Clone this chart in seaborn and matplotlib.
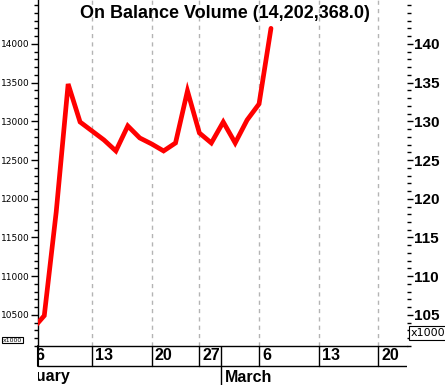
import numpy as np
import pandas as pd
import matplotlib
matplotlib.use("Agg")
import matplotlib.pyplot as plt
import matplotlib.transforms as mtransforms
from matplotlib.ticker import MultipleLocator, FixedLocator
import seaborn as sns

# ---- data (trading-day index -> On Balance Volume, in thousands) ----
day_index = list(range(21))
obv_values = [10313, 10490, 11829, 13483, 12992, 12876, 12760, 12618, 12941, 12786,
              12708, 12618, 12721, 13393, 12850, 12721, 12992, 12721, 13018, 13225, 14202]
tick_positions = [0, 5, 10, 14, 19, 24, 29]
tick_labels = ["6", "13", "20", "27", "6", "13", "20"]
month_labels = ["February", "March"]
month_break = 15.85
title_text = "On Balance Volume (14,202,368.0)"

sns.set_style("white")
plt.rcParams['font.family'] = ['Liberation Sans', 'DejaVu Sans']
plt.rcParams['text.color'] = 'black'
plt.rcParams['axes.labelcolor'] = 'black'
plt.rcParams['xtick.color'] = 'black'
plt.rcParams['ytick.color'] = 'black'

W, H = 445, 385
fig = plt.figure(figsize=(W / 100, H / 100), dpi=100)
fig.patch.set_facecolor("white")

ax_left_px, ax_right_px, ax_bottom_px = 38, 407, 346
ax = fig.add_axes([ax_left_px / W, (H - ax_bottom_px) / H,
                   (ax_right_px - ax_left_px) / W, ax_bottom_px / H])
xlim = (0.474, 31.40)
ylim = (10098, 14568)

df = pd.DataFrame({"day": day_index, "obv": obv_values})
sns.lineplot(data=df, x="day", y="obv", ax=ax, color="#ff0000", linewidth=3.4,
             solid_joinstyle="miter", zorder=5)
ax.set_xlim(*xlim)
ax.set_ylim(*ylim)
ax.set_xlabel("")
ax.set_ylabel("")

for g in tick_positions:
    ax.axvline(g, color="#b4b4b4", lw=1.0, ls=(0, (3, 3)), zorder=1)

for s in ["top", "right"]:
    ax.spines[s].set_visible(False)
for s in ["left", "bottom"]:
    ax.spines[s].set_color("black")
    ax.spines[s].set_linewidth(1.0)

ax.set_xticks([])
ax.yaxis.set_major_locator(FixedLocator(list(range(10500, 14001, 500))))
ax.yaxis.set_minor_locator(MultipleLocator(100))
ax.tick_params(axis="y", which="major", direction="out", length=5, width=1,
               labelsize=6.5, pad=1, colors="black")
ax.tick_params(axis="y", which="minor", direction="out", length=3, width=1, colors="black")
for lab in ax.get_yticklabels():
    lab.set_family("DejaVu Sans")

# right axis (values / 100)
axr = ax.twinx()
axr.set_ylim(ylim[0] / 100, ylim[1] / 100)
for s in axr.spines.values():
    s.set_visible(False)
axr.yaxis.set_major_locator(FixedLocator(list(range(105, 141, 5))))
axr.yaxis.set_minor_locator(MultipleLocator(1))
axr.tick_params(axis="y", which="major", direction="out", length=4, width=1,
                labelsize=11, pad=1, colors="black")
axr.tick_params(axis="y", which="minor", direction="out", length=3, width=1, colors="black")
for lab in axr.get_yticklabels():
    lab.set_fontweight("bold")
axr.set_xticks([])

# bottom date band
axb = fig.add_axes([ax_left_px / W, 0, (ax_right_px - ax_left_px) / W, (H - ax_bottom_px) / H])
axb.set_xlim(*xlim)
axb.set_ylim(0, H - ax_bottom_px)
axb.axis("off")
row_y = H - 366
axb.axhline(row_y, color="black", lw=1.0)
axb.plot([xlim[0], xlim[0]], [row_y, H - ax_bottom_px], color="black", lw=1.5, clip_on=False)
for g, t in zip(tick_positions, tick_labels):
    axb.plot([g, g], [row_y, H - ax_bottom_px], color="black", lw=1.0)
    off = mtransforms.offset_copy(axb.transData, fig=fig, x=3, y=0, units="dots")
    axb.text(g, (row_y + H - ax_bottom_px) / 2, t, transform=off, ha="left", va="center",
             fontsize=11.5, fontweight="bold", clip_on=True)
axb.plot([month_break, month_break], [0, H - ax_bottom_px], color="black", lw=1.0)

offm = mtransforms.offset_copy(axb.transData, fig=fig, x=-36, y=0, units="dots")
axb.text(xlim[0], 8, month_labels[0], transform=offm, ha="left", va="center",
         fontsize=11.5, fontweight="bold", clip_on=True)
offm2 = mtransforms.offset_copy(axb.transData, fig=fig, x=3, y=0, units="dots")
axb.text(month_break, 8, month_labels[1], transform=offm2, ha="left", va="center",
         fontsize=11.5, fontweight="bold", clip_on=True)

# title
fig.text(225 / W, 1 - 13 / H, title_text, ha="center", va="center",
         fontsize=13, fontweight="bold", color="black")

# multiplier boxes
fig.text(3 / W, 1 - 340 / H, "x1000", ha="left", va="center", fontsize=4.5,
         family="DejaVu Sans",
         bbox=dict(boxstyle="square,pad=0.15", fc="white", ec="black", lw=0.8))
fig.text(411 / W, 1 - 333 / H, "x1000", ha="left", va="center", fontsize=8,
         family="DejaVu Sans",
         bbox=dict(boxstyle="square,pad=0.2", fc="white", ec="black", lw=0.8))

fig.savefig("out.png", dpi=100, facecolor="white")
